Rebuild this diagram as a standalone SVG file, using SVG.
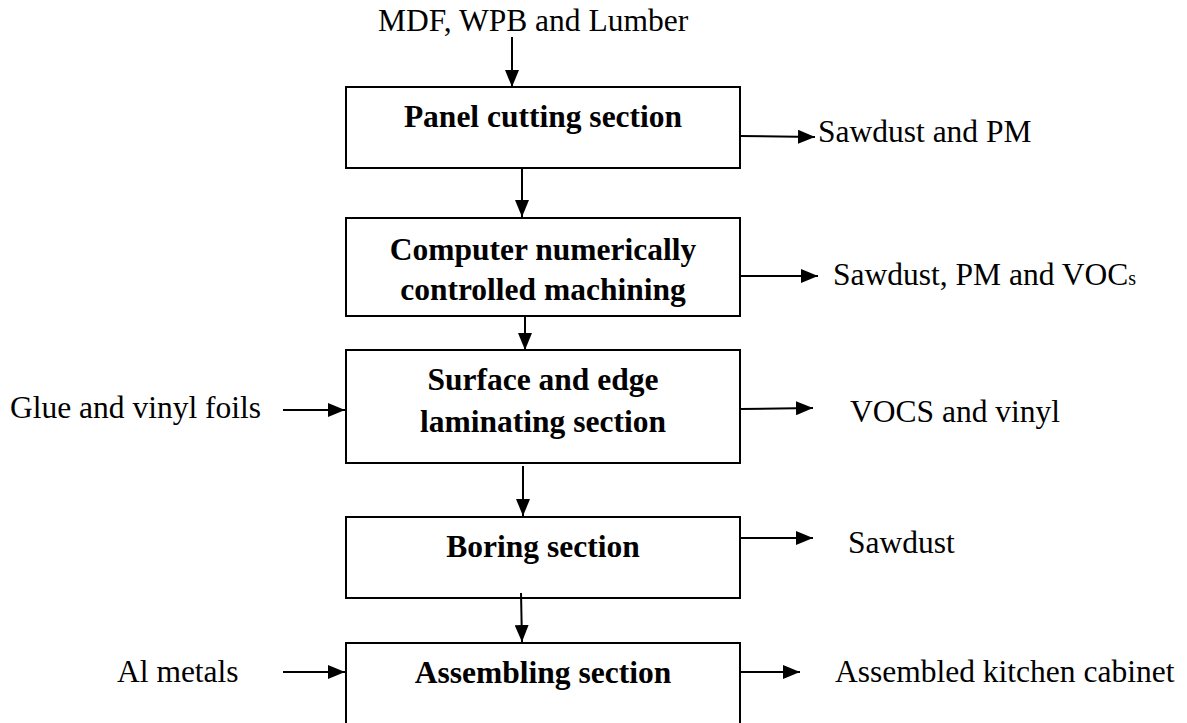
<svg xmlns="http://www.w3.org/2000/svg" width="1187" height="723" viewBox="0 0 1187 723">
<style>
.box{fill:#fff;stroke:#000;stroke-width:2}
.bt{font-family:"Liberation Serif","Times New Roman",serif;font-weight:bold;font-size:31.5px;text-anchor:middle;fill:#000}
.lt{font-family:"Liberation Serif","Times New Roman",serif;font-size:31.5px;fill:#000}
.c{stroke:#000;stroke-width:2;fill:none;marker-end:url(#ah)}
</style>
<defs>
<marker id="ah" markerUnits="userSpaceOnUse" markerWidth="18" markerHeight="14" refX="17" refY="7" orient="auto">
<path d="M0,0 L17,7 L0,14 Z" fill="#000"/>
</marker>
</defs>
<rect width="1187" height="723" fill="#fff"/>
<g id="n1"><rect class="box" x="346" y="87" width="394" height="81"/><text class="bt" x="543" y="127">Panel cutting section</text></g>
<g id="n2"><rect class="box" x="346" y="218" width="394" height="98"/><text class="bt" x="543" y="260">Computer numerically</text><text class="bt" x="543" y="300">controlled machining</text></g>
<g id="n3"><rect class="box" x="346" y="350" width="394" height="113"/><text class="bt" x="543" y="390">Surface and edge</text><text class="bt" x="543" y="432">laminating section</text></g>
<g id="n4"><rect class="box" x="346" y="517" width="394" height="81"/><text class="bt" x="543" y="557">Boring section</text></g>
<g id="n5"><path class="box" d="M346,724 V643 H740 V724"/><text class="bt" x="543" y="683">Assembling section</text></g>
<g id="labels">
<text class="lt" x="378" y="31">MDF, WPB and Lumber</text>
<text class="lt" x="818" y="142">Sawdust and PM</text>
<text class="lt" x="833" y="285">Sawdust, PM and VOC<tspan font-size="20">s</tspan></text>
<text class="lt" x="10" y="418">Glue and vinyl foils</text>
<text class="lt" x="850" y="422">VOCS and vinyl</text>
<text class="lt" x="848" y="553">Sawdust</text>
<text class="lt" x="117" y="682">Al metals</text>
<text class="lt" x="835" y="682">Assembled kitchen cabinet</text>
</g>
<g id="connectors">
<line class="c" x1="512" y1="37" x2="512" y2="87"/>
<line class="c" x1="522" y1="168" x2="522" y2="217"/>
<line class="c" x1="525" y1="316" x2="525" y2="350"/>
<line class="c" x1="523" y1="466" x2="523" y2="516"/>
<line class="c" x1="521" y1="593" x2="522" y2="642"/>
<line class="c" x1="740" y1="136" x2="815" y2="137"/>
<line class="c" x1="740" y1="276" x2="818" y2="276"/>
<line class="c" x1="740" y1="409" x2="813" y2="408"/>
<line class="c" x1="740" y1="538" x2="813" y2="538"/>
<line class="c" x1="740" y1="672" x2="800" y2="672"/>
<line class="c" x1="283" y1="410" x2="345" y2="410"/>
<line class="c" x1="283" y1="672" x2="345" y2="672"/>
</g>
</svg>
